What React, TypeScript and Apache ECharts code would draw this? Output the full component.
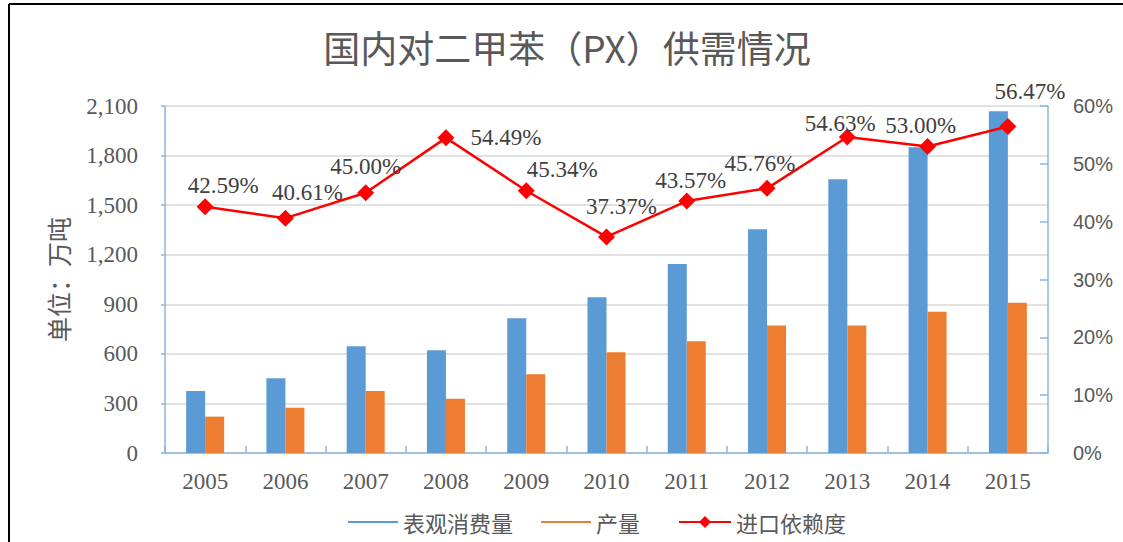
import React, { useEffect, useRef } from "react";
import * as echarts from "echarts";

const years = ["2005", "2006", "2007", "2008", "2009", "2010", "2011", "2012", "2013", "2014", "2015"];
const consumption = [375, 452, 646, 622, 815, 942, 1144, 1354, 1657, 1850, 2068];
const production = [220, 274, 375, 329, 476, 609, 676, 771, 771, 855, 910];
const importDependency = [0.4259, 0.4061, 0.45, 0.5449, 0.4534, 0.3737, 0.4357, 0.4576, 0.5463, 0.53, 0.5647];
const leftTicks = { min: 0, max: 2100, interval: 300 };
const rightTicks = { min: 0, max: 0.6, interval: 0.1 };

// label placement (style only), offsets from marker centre
const labelOffsets: [number, number][] = [
  [18, -21], [22, -26], [0, -26], [60, 0], [36, -21], [15, -30],
  [4, -21], [-7, -25], [-7, -14], [-7, -21], [22, -35],
];

const AXIS = "#8DB6E2";
const GRAY = "#595959";
const SERIF = "Liberation Serif";
const CJK = "Noto Sans CJK SC";

export default function App() {
  const ref = useRef<HTMLDivElement>(null);
  useEffect(() => {
    if (!ref.current) return;
    const chart = echarts.init(ref.current, undefined, { renderer: "svg" });
    const labelStyle = {
      show: true,
      position: "inside",
      fontFamily: SERIF,
      fontSize: 23,
      color: "#404040",
      formatter: (p: any) => `${(p.value * 100).toFixed(2)}%`,
    };
    chart.setOption({
      animation: false,
      backgroundColor: "#fff",
      textStyle: { fontFamily: SERIF },
      title: {
        text: "国内对二甲苯（PX）供需情况",
        left: 562,
        textAlign: "center",
        top: 23,
        textStyle: { fontFamily: CJK, fontSize: 37, fontWeight: "normal", color: GRAY },
      },
      graphic: [
        { type: "line", shape: { x1: 9, y1: 4, x2: 1123, y2: 4 }, style: { stroke: "#000", lineWidth: 2 } },
        { type: "line", shape: { x1: 9, y1: 4, x2: 9, y2: 542 }, style: { stroke: "#000", lineWidth: 2 } },
      ],
      legend: [
        {
          data: ["表观消费量", "产量"],
          left: 343,
          top: 506,
          icon: "rect",
          itemWidth: 50,
          itemHeight: 2,
          itemGap: 28,
          textStyle: { fontFamily: CJK, fontSize: 22, color: GRAY },
        },
        {
          data: ["进口依赖度"],
          left: 673,
          top: 506,
          itemWidth: 52,
          itemHeight: 15,
          textStyle: { fontFamily: CJK, fontSize: 22, color: GRAY },
        },
      ],
      grid: { left: 165, right: 75, top: 106, bottom: 89, containLabel: false },
      xAxis: {
        type: "category",
        data: years,
        axisLine: { lineStyle: { color: AXIS, width: 1.5 } },
        axisTick: { show: true, inside: true, length: 7, lineStyle: { color: AXIS, width: 1.5 } },
        axisLabel: { fontFamily: SERIF, fontSize: 23, color: GRAY, margin: 17 },
      },
      yAxis: [
        {
          type: "value",
          min: leftTicks.min,
          max: leftTicks.max,
          interval: leftTicks.interval,
          name: "单位：万吨",
          nameLocation: "middle",
          nameGap: 95,
          nameRotate: 90,
          nameTextStyle: { fontFamily: CJK, fontSize: 25, color: GRAY },
          axisLine: { show: true, lineStyle: { color: AXIS, width: 1.5 } },
          axisTick: { show: true, length: 4, lineStyle: { color: AXIS, width: 1.5 } },
          axisLabel: {
            fontFamily: SERIF,
            fontSize: 23,
            color: GRAY,
            margin: 27,
            formatter: (v: number) => v.toLocaleString("en-US"),
          },
          splitLine: { show: true, lineStyle: { color: "#D9D9D9", width: 1.5 } },
        },
        {
          type: "value",
          min: rightTicks.min,
          max: rightTicks.max,
          interval: rightTicks.interval,
          position: "right",
          axisLine: { show: true, lineStyle: { color: AXIS, width: 1.5 } },
          axisTick: { show: true, inside: true, length: 8, lineStyle: { color: AXIS, width: 1.5 } },
          axisLabel: {
            fontFamily: "Liberation Sans",
            fontSize: 20,
            color: GRAY,
            margin: 25,
            formatter: (v: number) => `${Math.round(v * 100)}%`,
          },
          splitLine: { show: false },
        },
      ],
      series: [
        {
          name: "表观消费量",
          type: "bar",
          data: consumption,
          barWidth: 19,
          barGap: "0%",
          itemStyle: { color: "#5B9BD5" },
        },
        {
          name: "产量",
          type: "bar",
          data: production,
          barWidth: 19,
          barGap: "0%",
          itemStyle: { color: "#ED7D31" },
        },
        {
          name: "进口依赖度",
          type: "line",
          yAxisIndex: 1,
          data: importDependency.map((v, i) => ({
            value: v,
            label: { ...labelStyle, offset: labelOffsets[i] },
          })),
          symbol: "diamond",
          symbolSize: 17,
          lineStyle: { color: "#FF0000", width: 2.5 },
          itemStyle: { color: "#FF0000" },
          label: labelStyle,
          z: 5,
        },
      ],
    });
    return () => chart.dispose();
  }, []);
  return (
    <div
      ref={ref}
      style={{ position: "absolute", left: 0, top: 0, width: 1123, height: 542 }}
    />
  );
}
